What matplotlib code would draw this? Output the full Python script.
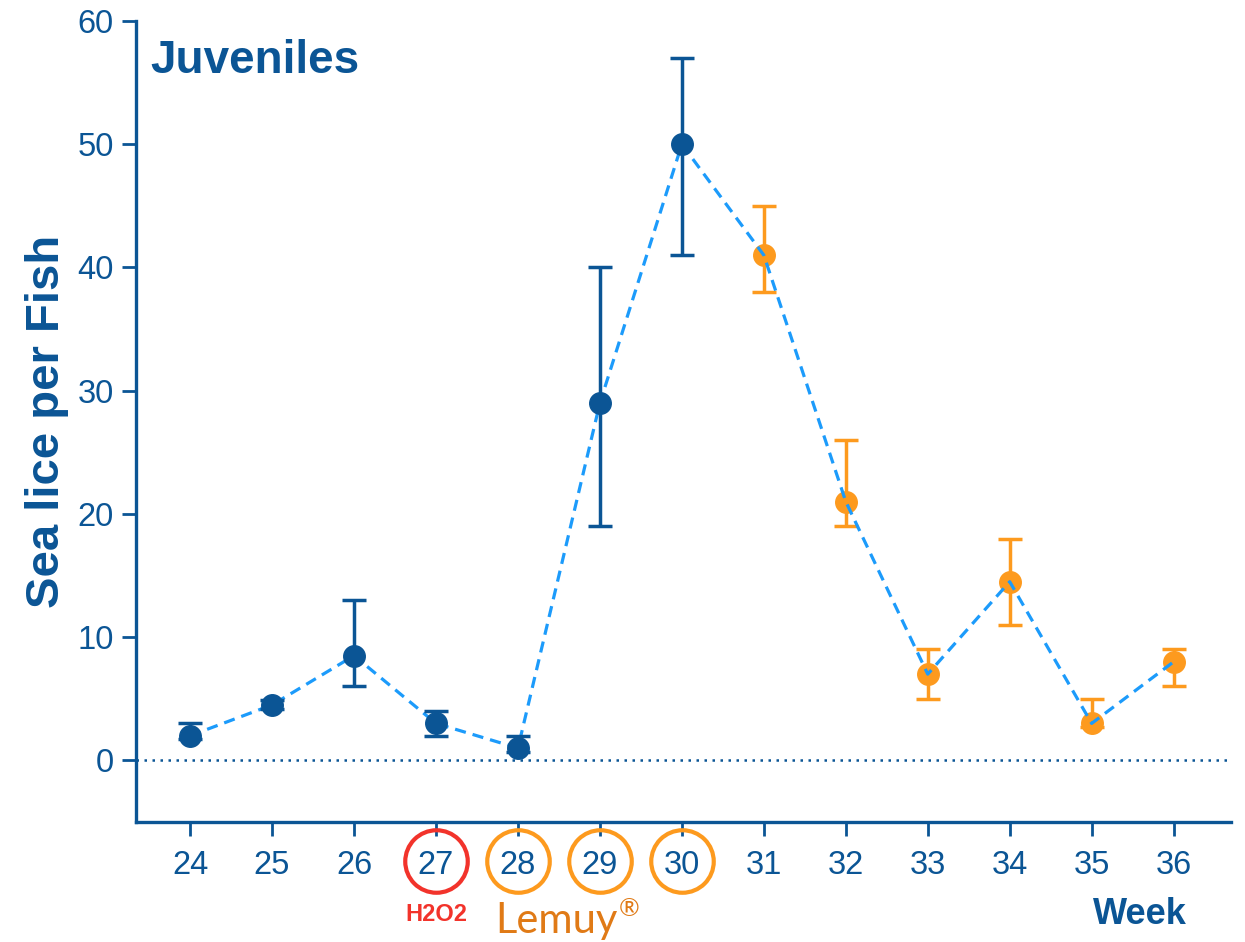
import matplotlib
matplotlib.use("Agg")
import matplotlib.pyplot as plt
import numpy as np

# data
weeks = [24, 25, 26, 27, 28, 29, 30, 31, 32, 33, 34, 35, 36]
lice = [2, 4.5, 8.5, 3, 1, 29, 50, 41, 21, 7, 14.5, 3, 8]
err_low = [1.7, 4.2, 6, 2, 0.7, 19, 41, 38, 19, 5, 11, 2.7, 6]
err_high = [3, 4.9, 13, 4, 2, 40, 57, 45, 26, 9, 18, 5, 9]
treated = [False] * 7 + [True] * 6   # orange points after Lemuy
h2o2_weeks = [27]
lemuy_weeks = [28, 29, 30]

DARK = "#0b5595"
LIGHT = "#1c9bfb"
ORANGE = "#fd9a1e"
RED = "#f2332b"
LEMUY = "#e07a16"

plt.rcParams['font.family'] = ['Liberation Sans', 'DejaVu Sans']

fig = plt.figure(figsize=(12.45, 9.42), dpi=100)
ax = fig.add_axes([136 / 1245, 1 - 822 / 942, (1231 - 136) / 1245, (822 - 21) / 942])

weeks = np.array(weeks)
lice = np.array(lice)
lo = lice - np.array(err_low)
hi = np.array(err_high) - lice
treated = np.array(treated)

ax.axhline(0, color=DARK, lw=1.8, ls=(0, (1, 2.2)), zorder=1)
ax.plot(weeks, lice, color=LIGHT, lw=2.3, ls=(0, (3.5, 2.2)), zorder=3)

for mask, col, z in [(~treated, DARK, 4), (treated, ORANGE, 2)]:
    ax.errorbar(weeks[mask], lice[mask], yerr=[lo[mask], hi[mask]], fmt='o',
                color=col, ms=15.5, elinewidth=2.5, capsize=8.5, capthick=2.5,
                zorder=z)

ax.set_xlim(23.34, 36.70)
ax.set_ylim(-5, 60)
ax.set_xticks(weeks)
ax.set_yticks([0, 10, 20, 30, 40, 50, 60])

for s in ['top', 'right']:
    ax.spines[s].set_visible(False)
for s in ['left', 'bottom']:
    ax.spines[s].set_color(DARK)
    ax.spines[s].set_linewidth(2.4)
ax.spines['left'].set_bounds(-5, 60)

ax.tick_params(colors=DARK, labelcolor=DARK, labelsize=23.5, width=2, length=10)
ax.tick_params(axis='x', pad=10)
ax.tick_params(axis='y', pad=6)

ax.set_ylabel("Sea lice per Fish", fontsize=34, fontweight='bold', color=DARK, labelpad=6)
ax.text(0.013, 0.95, "Juveniles", transform=ax.transAxes, fontsize=33,
        fontweight='bold', color=DARK, va='center', ha='left')
fig.text(1140 / 1245, 1 - 915 / 942, "Week", fontsize=26, fontweight='bold',
         color=DARK, ha='center', va='center')

# treatment circles around week labels
trans = ax.get_xaxis_transform()
ax.plot(h2o2_weeks, [-0.0487] * len(h2o2_weeks), 'o', transform=trans, ms=45,
        mfc='none', mec=RED, mew=3, clip_on=False)
ax.plot(lemuy_weeks, [-0.0487] * len(lemuy_weeks), 'o', transform=trans, ms=45,
        mfc='none', mec=ORANGE, mew=3, clip_on=False)

ax.text(h2o2_weeks[0], -0.115, "H2O2", transform=trans, fontsize=17,
        fontweight='bold', color=RED, ha='center', va='center')
t = ax.text(lemuy_weeks[0] - 0.28, -0.124, "Lemuy", transform=trans,
            fontsize=30, color=LEMUY, ha='left', va='center',
            family=['Lato', 'DejaVu Sans'])
ax.annotate("®", xy=(1, 1), xycoords=t, xytext=(1, 4), textcoords='offset points',
            fontsize=18, color=LEMUY, ha='left', va='top',
            family=['Lato', 'DejaVu Sans'])

fig.savefig("out.png", dpi=100)
